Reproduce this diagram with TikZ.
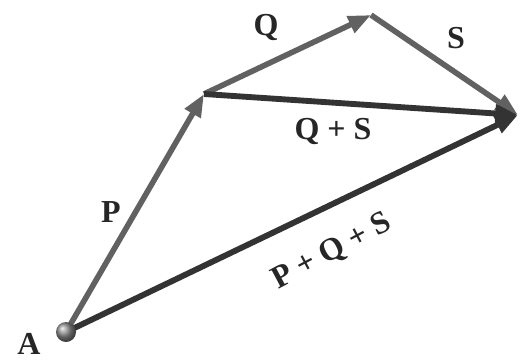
\documentclass[tikz,border=0pt]{standalone}
\usepackage{fontspec}
\setmainfont{Liberation Serif}
\usetikzlibrary{arrows.meta}
\begin{document}
\begin{tikzpicture}[x=0.75pt,y=-0.75pt,
  vec/.style={line width=4.2pt,draw=black!62,-{Triangle[length=17pt,width=13pt]}},
  vecdark/.style={line width=4.4pt,draw=black!80,-{Triangle[length=17pt,width=13pt]}},
  lbl/.style={font=\fontsize{24}{28}\selectfont\bfseries,text=black!85,inner sep=0pt}]
\useasboundingbox (0,0) rectangle (520,360);
\coordinate (A) at (66,332);
\coordinate (B) at (204,94);
\coordinate (C) at (371,15);
\coordinate (D) at (518,115);
\draw[vec] (A) -- (B);
\draw[vec] (B) -- (C);
\draw[vec] (C) -- (D);
\draw[vecdark] (B) -- (D);
\draw[vecdark] (A) -- (D);
\shade[ball color=black!45] (A) circle (10);
\node[lbl] (lA) at (29,344) {A};
\node[lbl] (lP) at (111,212) {P};
\node[lbl] (lQ) at (266,28) {Q};
\node[lbl] (lS) at (456,38) {S};
\node[lbl] (lQS) at (333,131) {Q + S};
\node[lbl,rotate=28] (lPQS) at (332,252) {P + Q + S};
\end{tikzpicture}
\end{document}
